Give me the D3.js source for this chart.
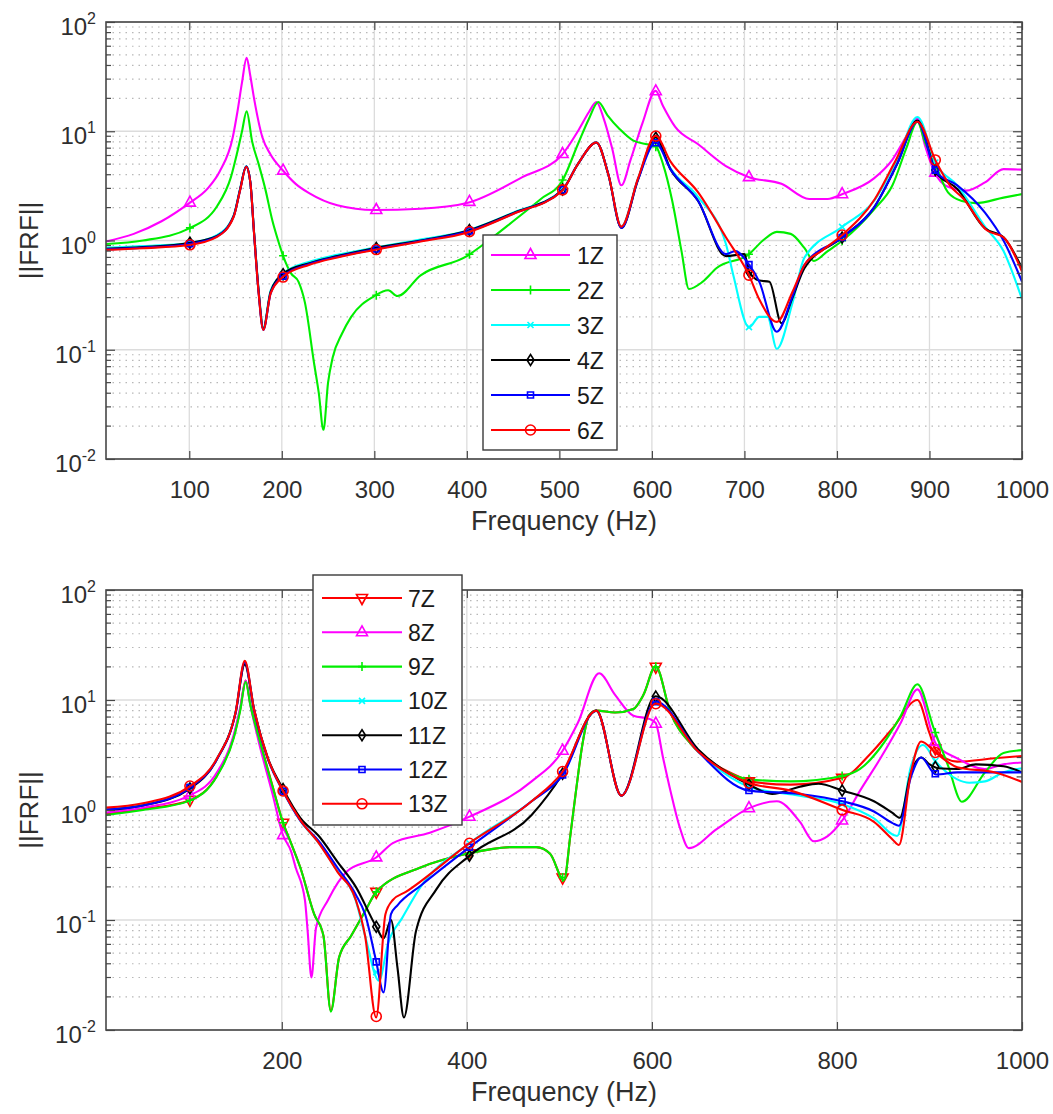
<!DOCTYPE html>
<html>
<head>
<meta charset="utf-8">
<script src="https://cdn.jsdelivr.net/npm/d3@7"></script>
<style>
body{margin:0;background:#fff;}
svg{font-family:"Liberation Sans",Arial,Helvetica,sans-serif;}
</style>
</head>
<body>
<svg class="svg" width="1053" height="1114"></svg>
<script>
// ---- data: [frequency Hz, |FRF|] ----
let top1Z = [[10,0.98],[40,1.15],[70,1.5],[100,2.2],[120,3.0],[133,4.3],[147,8.8],[152,15],[157,28],[162,47],[166,32],[170,20],[179,8.8],[188,6.1],[201,4.4],[215,3.3],[230,2.7],[260,2.1],[300,1.9],[350,1.95],[400,2.2],[460,3.8],[503,6.1],[520,10],[532,15],[540,18.5],[548,13],[557,7],[567,3.2],[577,5.5],[590,12],[604,23.4],[612,17],[625,11],[650,7.6],[680,4.8],[705,3.8],[740,3.3],[770,2.4],[790,2.4],[806,2.66],[840,3.7],[860,5.5],[875,9],[887,13.1],[895,7.5],[905,4.3],[920,3.1],[940,2.86],[960,3.4],[980,4.5],[1000,4.45]];
let top2Z = [[10,0.93],[50,1.0],[100,1.29],[130,2.06],[145,3.8],[152,6.5],[157,10],[162,15.2],[168,8],[175,5],[182,3.0],[190,1.5],[196,1.0],[202,0.70],[210,0.5],[218,0.42],[225,0.27],[235,0.074],[240,0.04],[245,0.0185],[250,0.05],[255,0.085],[265,0.14],[275,0.2],[300,0.31],[315,0.35],[325,0.31],[350,0.48],[400,0.72],[420,0.95],[450,1.5],[480,2.4],[503,3.5],[520,7.6],[532,13],[542,18.5],[552,14],[565,10.5],[580,8.2],[595,7.6],[604,7.3],[612,5],[622,2.3],[632,0.8],[640,0.36],[655,0.42],[670,0.56],[705,0.75],[720,1.0],[735,1.2],[750,1.15],[765,0.85],[775,0.65],[790,0.8],[806,1.0],[840,1.92],[860,3.2],[875,7],[887,12.2],[895,8],[905,5.3],[920,2.76],[935,2.3],[950,2.2],[980,2.47],[1000,2.66]];
let top3Z = [[10,0.86],[50,0.89],[100,0.95],[130,1.12],[148,1.7],[155,3.0],[161.5,4.8],[166,3.4],[170,1.2],[175,0.35],[180,0.16],[188,0.35],[202,0.5],[230,0.64],[260,0.74],[300,0.86],[350,1.02],[400,1.23],[450,1.8],[503,2.9],[520,5.0],[540,7.9],[553,4.0],[567,1.34],[585,3.7],[604,8.5],[620,4.6],[650,2.5],[680,0.93],[688,0.48],[705,0.16],[716,0.2],[725,0.2],[735,0.102],[752,0.27],[765,0.70],[806,1.34],[840,2.3],[865,5.5],[887,13.5],[907,5.0],[930,3.2],[960,1.34],[980,0.8],[1000,0.29]];
let top4Z = [[10,0.84],[50,0.87],[100,0.95],[130,1.1],[148,1.68],[155,2.95],[161.5,4.75],[166,3.4],[170,1.18],[175,0.34],[180,0.155],[188,0.34],[202,0.5],[230,0.62],[260,0.72],[300,0.85],[350,1.0],[400,1.22],[450,1.78],[503,2.88],[520,5.0],[540,7.9],[553,4.0],[567,1.3],[585,3.6],[604,8.8],[620,4.5],[650,2.3],[680,0.72],[700,0.75],[705,0.52],[716,0.43],[727,0.42],[740,0.175],[752,0.3],[765,0.56],[806,1.07],[840,2.0],[865,5.0],[887,12.5],[907,4.25],[930,2.97],[960,1.29],[980,1.07],[1000,0.56]];
let top5Z = [[10,0.83],[50,0.86],[100,0.93],[130,1.09],[148,1.66],[155,2.92],[161.5,4.74],[166,3.4],[170,1.17],[175,0.33],[180,0.152],[188,0.33],[202,0.48],[230,0.61],[260,0.71],[300,0.83],[350,0.99],[400,1.2],[450,1.76],[503,2.87],[520,5.0],[540,7.9],[553,4.0],[567,1.3],[585,3.6],[604,7.9],[620,4.5],[650,2.3],[680,0.75],[690,0.8],[705,0.6],[716,0.42],[735,0.146],[752,0.31],[765,0.6],[806,1.07],[840,2.0],[865,5.0],[887,12.2],[907,4.25],[930,3.2],[960,1.8],[980,1.0],[1000,0.42]];
let top6Z = [[10,0.82],[50,0.85],[100,0.91],[130,1.08],[148,1.65],[155,2.9],[161.5,4.73],[166,3.4],[170,1.17],[175,0.33],[180,0.152],[188,0.33],[202,0.47],[230,0.60],[260,0.70],[300,0.82],[350,0.98],[400,1.18],[450,1.75],[503,2.86],[520,5.0],[540,7.9],[553,4.0],[567,1.34],[585,3.7],[604,9.1],[620,5.3],[650,2.76],[680,1.07],[705,0.48],[716,0.29],[735,0.18],[752,0.34],[765,0.60],[783,0.8],[806,1.13],[841,2.4],[863,5.3],[887,12.2],[907,5.3],[922,3.2],[937,2.4],[962,1.24],[980,1.07],[1000,0.52]];

let bot7Z = [[10,0.92],[50,1.02],[100,1.22],[130,2.06],[148,4.6],[155,8.2],[161,15],[166,9.2],[175,4.7],[190,1.65],[201,0.78],[210,0.5],[220,0.3],[235,0.113],[245,0.072],[253,0.015],[262,0.046],[275,0.072],[290,0.12],[302,0.18],[350,0.3],[400,0.40],[450,0.46],[475,0.46],[490,0.40],[505,0.23],[512,0.6],[518,1.5],[525,4],[532,7.2],[540,8.0],[560,7.7],[580,8.3],[591,11.2],[604,20.3],[620,7.7],[642,4.0],[664,2.74],[697,1.96],[705,1.82],[750,1.7],[806,1.96],[837,3.3],[860,5.5],[887,10],[900,5],[907,3.5],[930,2.75],[970,2.95],[1000,3.1]];
let bot8Z = [[10,0.95],[50,1.05],[100,1.35],[130,2.2],[148,4.8],[155,8.5],[161,15],[166,9],[175,4.2],[190,1.4],[201,0.6],[210,0.42],[215,0.30],[225,0.152],[228,0.078],[232,0.03],[237,0.085],[250,0.152],[270,0.275],[302,0.37],[320,0.5],[360,0.62],[403,0.87],[470,1.82],[503,3.4],[520,6.2],[543,17.5],[560,11.2],[580,7.2],[598,6.7],[604,6.2],[612,3.0],[620,1.5],[630,0.7],[640,0.45],[670,0.67],[705,1.04],[735,1.2],[760,0.78],[775,0.52],[790,0.58],[806,0.81],[825,1.5],[847,2.95],[869,6.2],[887,12.5],[907,4.0],[930,2.95],[960,2.36],[980,2.6],[1000,2.7]];
let bot9Z = [[10,0.9],[50,1.0],[100,1.21],[130,2.04],[148,4.5],[155,8],[161,14.6],[166,9],[175,4.6],[190,1.63],[201,0.78],[210,0.5],[220,0.3],[235,0.113],[245,0.072],[253,0.0147],[262,0.046],[275,0.072],[290,0.12],[302,0.18],[350,0.3],[400,0.40],[450,0.46],[475,0.46],[490,0.40],[505,0.23],[512,0.6],[518,1.5],[525,4],[532,7.2],[540,8.0],[560,7.7],[580,8.3],[591,11.2],[604,20.3],[620,7.7],[642,4.0],[664,2.74],[697,1.96],[705,1.9],[750,1.82],[806,2.04],[825,2.36],[847,3.7],[869,7.2],[887,13.9],[905,5.4],[920,2.55],[935,1.19],[960,2.2],[980,3.3],[1000,3.5]];
let bot10Z = [[10,1.02],[50,1.12],[100,1.6],[130,2.95],[150,7.7],[160,22],[170,8.3],[185,2.95],[201,1.5],[220,0.8],[240,0.5],[260,0.28],[280,0.15],[290,0.072],[305,0.028],[315,0.062],[330,0.104],[350,0.2],[403,0.5],[470,1.2],[503,2.1],[540,8.0],[567,1.35],[604,9.5],[650,3.4],[705,1.63],[760,1.35],[806,1.13],[840,0.84],[865,0.58],[880,2.5],[893,3.9],[907,2.74],[930,1.9],[943,1.77],[960,1.82],[980,2.2],[1000,2.4]];
let bot11Z = [[10,1.0],[50,1.1],[100,1.55],[130,2.9],[150,7.6],[160,21],[170,8.2],[185,2.95],[201,1.57],[220,0.85],[240,0.58],[260,0.34],[280,0.2],[302,0.087],[310,0.068],[318,0.1],[325,0.037],[332,0.013],[345,0.079],[367,0.19],[403,0.385],[470,0.9],[503,2.1],[540,8.0],[567,1.35],[604,10.8],[650,3.55],[705,1.7],[730,1.4],[760,1.63],[780,1.73],[806,1.5],[840,1.2],[860,0.94],[868,0.85],[880,2.2],[891,3.0],[900,2.6],[909,2.4],[930,2.36],[950,2.6],[980,2.5],[1000,2.2]];
let bot12Z = [[10,1.01],[50,1.1],[100,1.58],[130,2.9],[150,7.6],[160,22],[170,8.2],[185,2.9],[201,1.5],[220,0.8],[240,0.52],[260,0.30],[280,0.17],[290,0.113],[302,0.042],[310,0.022],[318,0.113],[325,0.136],[350,0.205],[403,0.46],[470,1.2],[503,2.04],[540,8.0],[567,1.35],[604,9.7],[650,3.4],[705,1.5],[760,1.4],[806,1.2],[840,0.97],[860,0.76],[867,0.72],[880,2.0],[891,3.0],[907,2.1],[930,2.2],[1000,2.2]];
let bot13Z = [[10,1.05],[50,1.15],[100,1.63],[130,2.95],[150,7.7],[160,22.7],[170,8.3],[185,2.95],[201,1.51],[220,0.81],[240,0.5],[260,0.275],[280,0.152],[290,0.072],[302,0.013],[312,0.113],[320,0.152],[334,0.18],[403,0.5],[470,1.2],[503,2.2],[540,8.0],[567,1.35],[604,9.3],[650,3.4],[705,1.76],[750,1.5],[806,1.0],[840,0.78],[860,0.54],[867,0.48],[880,2.2],[891,4.2],[907,3.3],[930,2.45],[970,2.2],[1000,1.8]];

let topNames = ['1Z','2Z','3Z','4Z','5Z','6Z'];
let topColors = ['#ff00ff','#00ee00','#00ffff','#000000','#0000ff','#ff0000'];
let topMarkers = ['triangle','plus','cross','diamond','square','circle'];
let botNames = ['7Z','8Z','9Z','10Z','11Z','12Z','13Z'];
let botColors = ['#ff0000','#ff00ff','#00ee00','#00ffff','#000000','#0000ff','#ff0000'];
let botMarkers = ['triangleDown','triangle','plus','cross','diamond','square','circle'];

let topXTicks = [100,200,300,400,500,600,700,800,900,1000];
let botXTicks = [200,400,600,800,1000];
let yTicks = [0.01,0.1,1,10,100];
let markerFreqs = [100.7,201.4,302.1,402.8,503.5,604.2,704.9,805.6,906.3];

let svg = d3.select('.svg');

function markerPath(type) {
    switch (type) {
        case 'triangle': return 'M0,-6.5L5.5,3.5L-5.5,3.5Z';
        case 'triangleDown': return 'M0,6.5L5.5,-3.5L-5.5,-3.5Z';
        case 'plus': return 'M-4,0H4M0,-4.5V4.5';
        case 'cross': return 'M-3,-3L3,3M-3,3L3,-3';
        case 'diamond': return 'M0,-5.5L3.5,0L0,5.5L-3.5,0Z';
        case 'square': return 'M-3,-3H3V3H-3Z';
        case 'circle': return 'M5,0A5,5 0 1,1 -5,0A5,5 0 1,1 5,0Z';
    }
}

// value on the measured curve at f (log-linear between read points)
function valueAt(data, f) {
    for (let i = 0; i < data.length - 1; i++) {
        if (f >= data[i][0] && f <= data[i + 1][0]) {
            let t = (f - data[i][0]) / (data[i + 1][0] - data[i][0]);
            return Math.pow(10, Math.log10(data[i][1]) * (1 - t) + Math.log10(data[i + 1][1]) * t);
        }
    }
    return data[data.length - 1][1];
}

function drawPanel(opt) {
    let x = d3.scaleLinear().domain([10, 1000]).range([opt.left, opt.right]);
    let y = d3.scaleLog().domain([0.01, 100]).range([opt.bottom, opt.top]);
    let g = svg.append('g').attr('class', 'panel');

    // minor dotted grid (2..9 per decade)
    let minor = [];
    for (let k = -2; k < 2; k++) {
        for (let m = 2; m <= 9; m++) minor.push(m * Math.pow(10, k));
    }
    g.selectAll('.minorGrid').data(minor).enter().append('line')
        .attr('class', 'minorGrid')
        .attr('x1', opt.left).attr('x2', opt.right)
        .attr('y1', d => y(d)).attr('y2', d => y(d))
        .style('stroke', '#b8b8b8')
        .style('stroke-width', 1.2)
        .style('stroke-dasharray', '1.5 5');
    g.selectAll('.majorGridY').data(yTicks).enter().append('line')
        .attr('x1', opt.left).attr('x2', opt.right)
        .attr('y1', d => y(d)).attr('y2', d => y(d))
        .style('stroke', '#dcdcdc').style('stroke-width', 1.3);
    g.selectAll('.majorGridX').data(opt.xTicks).enter().append('line')
        .attr('x1', d => x(d)).attr('x2', d => x(d))
        .attr('y1', opt.top).attr('y2', opt.bottom)
        .style('stroke', '#dcdcdc').style('stroke-width', 1.3);

    // clip
    let clipId = 'clip' + opt.top;
    g.append('clipPath').attr('id', clipId).append('rect')
        .attr('x', opt.left).attr('y', opt.top)
        .attr('width', opt.right - opt.left).attr('height', opt.bottom - opt.top);

    let line = d3.line()
        .x(d => x(d[0]))
        .y(d => y(d[1]))
        .curve(d3.curveMonotoneX);

    let plot = g.append('g').attr('clip-path', 'url(#' + clipId + ')');
    for (let i = 0; i < opt.series.length; i++) {
        let data = opt.series[i];
        plot.append('path')
            .attr('d', line(data))
            .attr('fill', 'none')
            .style('stroke', opt.colors[i])
            .style('stroke-width', 2.1)
            .style('stroke-linejoin', 'round');
        plot.selectAll('.mk' + i).data(markerFreqs).enter().append('path')
            .attr('class', 'mk' + i)
            .attr('transform', d => 'translate(' + x(d) + ',' + y(valueAt(data, d)) + ')')
            .attr('d', markerPath(opt.markers[i]))
            .attr('fill', 'none')
            .style('stroke', opt.colors[i])
            .style('stroke-width', 1.6);
    }

    // axes (ticks pointing inward, box on)
    let axColor = '#474747';
    let xb = g.append('g').attr('transform', 'translate(0,' + opt.bottom + ')')
        .call(d3.axisBottom(x).tickValues(opt.xTicks).tickFormat(d3.format('d'))
            .tickSizeInner(-8).tickSizeOuter(0).tickPadding(21.5));
    let xt = g.append('g').attr('transform', 'translate(0,' + opt.top + ')')
        .call(d3.axisTop(x).tickValues(opt.xTicks).tickSizeInner(-8).tickSizeOuter(0).tickFormat(''));
    let yl = g.append('g').attr('transform', 'translate(' + opt.left + ',0)')
        .call(d3.axisLeft(y).tickValues(yTicks).tickSizeInner(-9).tickSizeOuter(0).tickFormat(''));
    let yr = g.append('g').attr('transform', 'translate(' + opt.right + ',0)')
        .call(d3.axisRight(y).tickValues(yTicks).tickSizeInner(-9).tickSizeOuter(0).tickFormat(''));
    [xb, xt, yl, yr].forEach(a => {
        a.select('.domain').remove();
        a.selectAll('.tick line').style('stroke', axColor).style('stroke-width', 1.2);
    });
    xb.selectAll('.tick text')
        .style('font-size', '24px')
        .style('font-family', '"Liberation Sans", Arial, sans-serif')
        .style('fill', '#2e2e2e');

    // minor y ticks both sides
    g.selectAll('.minorTickL').data(minor).enter().append('line')
        .attr('x1', opt.left).attr('x2', opt.left + 5)
        .attr('y1', d => y(d)).attr('y2', d => y(d))
        .style('stroke', axColor).style('stroke-width', 1.2);
    g.selectAll('.minorTickR').data(minor).enter().append('line')
        .attr('x1', opt.right).attr('x2', opt.right - 5)
        .attr('y1', d => y(d)).attr('y2', d => y(d))
        .style('stroke', axColor).style('stroke-width', 1.2);

    g.append('rect')
        .attr('x', opt.left).attr('y', opt.top)
        .attr('width', opt.right - opt.left).attr('height', opt.bottom - opt.top)
        .attr('fill', 'none')
        .style('stroke', axColor).style('stroke-width', 1.6);

    // y tick labels 10^k
    let yLab = g.selectAll('.yLab').data(yTicks).enter().append('text')
        .attr('x', opt.left - 10)
        .attr('y', d => y(d) + 13)
        .attr('text-anchor', 'end')
        .style('font-size', '24px')
        .style('fill', '#2e2e2e');
    yLab.append('tspan').text('10');
    yLab.append('tspan')
        .attr('dy', -11)
        .style('font-size', '16px')
        .text(d => String(Math.round(Math.log10(d))));

    // axis titles
    g.append('text')
        .attr('x', (opt.left + opt.right) / 2)
        .attr('y', opt.bottom + 71)
        .attr('text-anchor', 'middle')
        .style('font-size', '27px')
        .style('fill', '#2e2e2e')
        .text('Frequency (Hz)');
    g.append('text')
        .attr('transform', 'translate(38,' + (opt.top + opt.bottom) / 2 + ') rotate(-90)')
        .attr('text-anchor', 'middle')
        .style('font-size', '26px')
        .style('fill', '#2e2e2e')
        .text('||FRF||');

    // legend
    let L = opt.legend;
    let lg = g.append('g').attr('class', 'legend');
    lg.append('rect')
        .attr('x', L.x).attr('y', L.y).attr('width', L.w).attr('height', L.h)
        .attr('fill', '#fff')
        .style('stroke', '#3a3a3a').style('stroke-width', 1.4);
    for (let i = 0; i < opt.names.length; i++) {
        let ry = L.firstY + i * L.rowH;
        lg.append('line')
            .attr('x1', L.x + L.lineX0).attr('x2', L.x + L.lineX1)
            .attr('y1', ry).attr('y2', ry)
            .style('stroke', opt.colors[i]).style('stroke-width', 2.1);
        lg.append('path')
            .attr('transform', 'translate(' + (L.x + (L.lineX0 + L.lineX1) / 2) + ',' + ry + ')')
            .attr('d', markerPath(opt.markers[i]))
            .attr('fill', 'none')
            .style('stroke', opt.colors[i]).style('stroke-width', 1.6);
        lg.append('text')
            .attr('x', L.x + L.textX)
            .attr('y', ry + 8.5)
            .style('font-size', '23px')
            .style('fill', '#1a1a1a')
            .text(opt.names[i]);
    }
}

drawPanel({
    top: 22, bottom: 459, left: 106, right: 1022,
    xTicks: topXTicks,
    series: [top1Z, top2Z, top3Z, top4Z, top5Z, top6Z],
    names: topNames, colors: topColors, markers: topMarkers,
    legend: {x: 483, y: 235, w: 134, h: 215, firstY: 255, rowH: 35, lineX0: 8, lineX1: 87, textX: 94}
});

drawPanel({
    top: 590, bottom: 1030, left: 106, right: 1022,
    xTicks: botXTicks,
    series: [bot7Z, bot8Z, bot9Z, bot10Z, bot11Z, bot12Z, bot13Z],
    names: botNames, colors: botColors, markers: botMarkers,
    legend: {x: 313, y: 575, w: 149, h: 250, firstY: 598, rowH: 34.3, lineX0: 9, lineX1: 89, textX: 95}
});
</script>
</body>
</html>
